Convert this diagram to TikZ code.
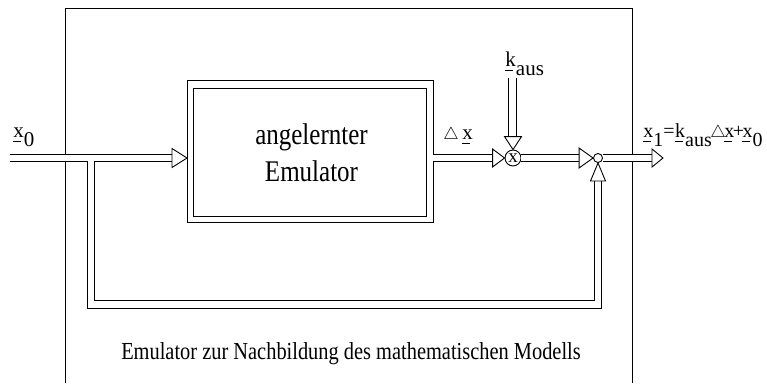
\documentclass[tikz,border=0pt]{standalone}
\usepackage{graphicx}
\usepackage{fontspec}
\setmainfont{Liberation Serif}
\usetikzlibrary{calc}
\newcommand\ulx[1]{\rlap{\kern-0.5pt\rule[-4.5pt]{8pt}{0.9pt}}#1}
\newcommand\lowr[1]{\raisebox{-9pt}{#1}}
\newcommand\smtri{{\fontsize{16}{16}\selectfont$\triangle$}}
\newcommand\vstr[1]{\scalebox{1}[1.2]{#1}}
\newcommand\arrtri[4]{\draw[fill=white, line width=0.9pt, shift={(#1)}, rotate=#2] (0,0) -- (-#3,#4) -- (-#3,-#4) -- cycle;}
\begin{document}
\begin{tikzpicture}[x=1pt,y=-1pt, line width=0.9pt,
  dbl/.style={draw=black, double=white, double distance=6.5pt, line width=0.9pt},
  lbl/.style={font=\fontsize{21}{21}\selectfont, inner sep=0pt, anchor=base west},
  boxline/.style={draw, line width=1pt, inner sep=0pt},
  btext/.style={font=\fontsize{25}{25}\selectfont, inner sep=0pt, anchor=base},
]
\useasboundingbox (0,0) rectangle (767,383);
% outer frame (open at bottom)
\coordinate (fbl) at (65,383);
\coordinate (ftr) at (632,8);
\coordinate (fbr) at (632,383);
\draw[line width=1pt] (fbl) |- (ftr) -- (fbr);
% emulator block (double border)
\node[boxline, minimum width=246pt, minimum height=142pt] (emu) at (310.5,151) {};
\node[boxline, minimum width=233pt, minimum height=128pt] (emuin) at (309.5,152) {};
\node[btext] (emt1) at (311.5,144) {\vstr{angelernter}};
\node[btext] (emt2) at (311.5,181) {\vstr{Emulator}};
% multiplier and summing point
\node[draw, circle, minimum size=16pt, inner sep=0pt, fill=white, font=\fontsize{19}{19}\selectfont] (mul) at (513,158) {x};
\node[draw, circle, minimum size=9pt, inner sep=0pt, fill=white] (sum) at (598,158) {};
% coordinates
\coordinate (in) at (10,158);
\coordinate (tin) at (172.5,158);
\coordinate (emuin) at (187,158);
\coordinate (emuout) at (433,158);
\coordinate (tmul) at (494,158);
\coordinate (ktop) at (512.5,78);
\coordinate (kbase) at (512.5,137);
\coordinate (mulout) at (521,158);
\coordinate (tsum) at (580,158);
\coordinate (br) at (91,161);
\coordinate (brc) at (598,304.5);
\coordinate (tup) at (598,181);
\coordinate (sumout) at (602.5,158);
\coordinate (tout) at (652,158);
\coordinate (outtip) at (663,158);
% double lines
\draw[dbl] (in) -- (tin);
\draw[dbl] (br) |- (brc) -- (tup);
\draw[dbl] (emuout) -- (tmul);
\draw[dbl] (ktop) -- (kbase);
\draw[dbl] (mulout) -- (tsum);
\draw[dbl] (sumout) -- (tout);
% arrow triangles
\arrtri{emuin}{0}{15}{9.5}
\arrtri{mul.west}{0}{12}{9}
\arrtri{mul.north}{-90}{13}{8.5}
\arrtri{sum.west}{0}{14}{10}
\arrtri{sum.south}{90}{18}{7.5}
\arrtri{outtip}{0}{11}{9}
% labels
\node[lbl] (lx0) at (13,137) {\ulx{x}\lowr{0}};
\node[lbl] (ldx) at (443,139) {\smtri\,\ulx{x}};
\node[lbl] (lk) at (505,66) {\ulx{k}\lowr{aus}};
\node[lbl, font=\fontsize{20}{20}\selectfont] (lout) at (643,137) {\ulx{x}\lowr{1}=\kern0.5pt\ulx{k}\lowr{aus}\kern-1.5pt\smtri\kern-1.5pt\ulx{x}\kern-1.5pt+\kern-1.5pt\ulx{x}\lowr{0}};
\node[font=\fontsize{20.4}{20.4}\selectfont, inner sep=0pt, anchor=base] (cap) at (351,359) {\vstr{Emulator zur Nachbildung des mathematischen Modells}};
\end{tikzpicture}
\end{document}
